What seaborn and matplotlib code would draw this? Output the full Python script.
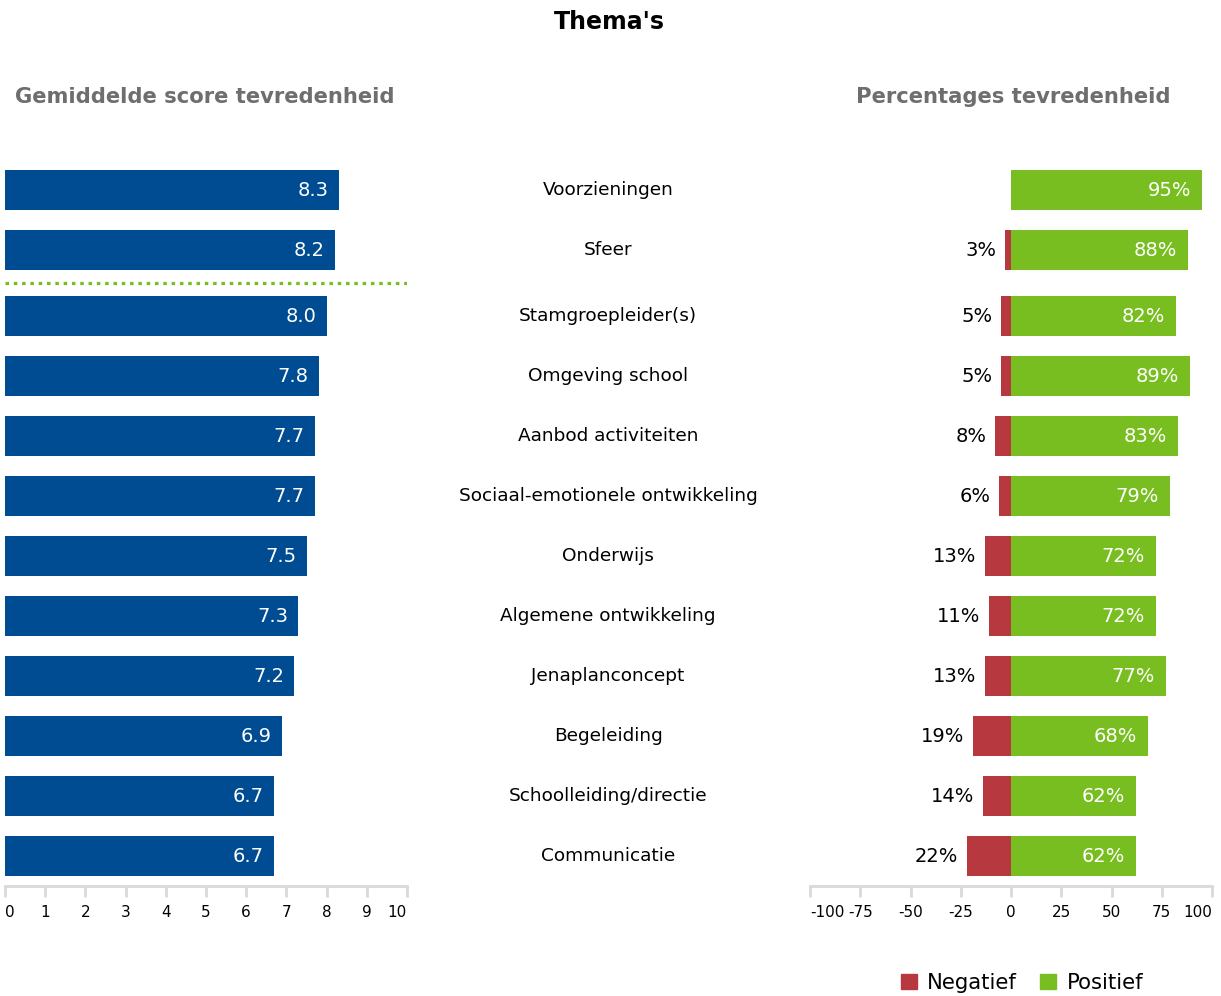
import numpy as np
import pandas as pd
import matplotlib
matplotlib.use("Agg")
import matplotlib.pyplot as plt
import matplotlib.transforms as mtransforms
import seaborn as sns

# data
themes = ["Voorzieningen", "Sfeer", "Stamgroepleider(s)", "Omgeving school",
          "Aanbod activiteiten", "Sociaal-emotionele ontwikkeling", "Onderwijs",
          "Algemene ontwikkeling", "Jenaplanconcept", "Begeleiding",
          "Schoolleiding/directie", "Communicatie"]
scores = [8.3, 8.2, 8.0, 7.8, 7.7, 7.7, 7.5, 7.3, 7.2, 6.9, 6.7, 6.7]
negatief = [0, 3, 5, 5, 8, 6, 13, 11, 13, 19, 14, 22]
positief = [95, 88, 82, 89, 83, 79, 72, 72, 77, 68, 62, 62]

score_ticks = list(range(0, 11))
pct_ticks = [-100, -75, -50, -25, 0, 25, 50, 75, 100]

BLUE = "#004c93"
GREEN = "#78be20"
RED = "#b83840"
GRAY_TXT = "#6e6e6e"
AXIS_GRAY = "#d9d9d9"

sns.set_style("white")
plt.rcParams["font.family"] = ["DejaVu Sans"]
plt.rcParams["text.color"] = "black"

n = len(themes)
gap = 0.1
ypos = np.arange(n) + np.where(np.arange(n) >= 2, gap, 0.0)

df = pd.DataFrame({"thema": themes, "y": ypos, "score": scores})
long = pd.concat([
    pd.DataFrame({"y": ypos, "waarde": -np.array(negatief), "soort": "Negatief"}),
    pd.DataFrame({"y": ypos, "waarde": np.array(positief), "soort": "Positief"}),
])

fig = plt.figure(figsize=(12.21, 9.96), dpi=100)
ax1 = fig.add_axes([5 / 1221, 1 - 886 / 996, 402 / 1221, 726 / 996])
ax2 = fig.add_axes([810 / 1221, 1 - 886 / 996, 402 / 1221, 726 / 996])

# left: average scores
sns.barplot(data=df, x="score", y="y", orient="h", native_scale=True,
            color=BLUE, width=0.67, linewidth=0, saturation=1, ax=ax1)
ax1.set_xlim(0, 10)
for yy, s in zip(ypos, scores):
    ax1.annotate(f"{s:.1f}", (s, yy), xytext=(-7.5, 0), textcoords="offset points",
                 ha="right", va="center", color="white", fontsize=14)
ax1.axhline((1 + 2 + gap) / 2, color=GREEN, lw=2.3, linestyle=(0, (1.1, 1.5)))
ax1.set_xticks(score_ticks)
ax1.set_xticklabels([str(t) for t in score_ticks])

# right: percentages
sns.barplot(data=long, x="waarde", y="y", hue="soort", orient="h", native_scale=True,
            dodge=False, palette={"Negatief": RED, "Positief": GREEN}, width=0.67,
            linewidth=0, saturation=1, legend=False, ax=ax2)
ax2.set_xlim(-100, 100)
ax2.set_xticks(pct_ticks)
ax2.set_xticklabels([str(t) for t in pct_ticks])
for yy, ng, ps in zip(ypos, negatief, positief):
    ax2.annotate(f"{ps}%", (ps, yy), xytext=(-8, 0), textcoords="offset points",
                 ha="right", va="center", color="white", fontsize=14)
    if ng > 0:
        ax2.annotate(f"{ng}%", (-ng, yy), xytext=(-6, 0), textcoords="offset points",
                     ha="right", va="center", color="black", fontsize=14)

for ax in (ax1, ax2):
    ax.set_ylim(ypos[-1] + 0.5, -0.5)
    ax.set_xlabel("")
    ax.set_ylabel("")
    ax.set_yticks([])
    for side in ("top", "right", "left"):
        ax.spines[side].set_visible(False)
    ax.spines["bottom"].set_color(AXIS_GRAY)
    ax.spines["bottom"].set_linewidth(2)
    ax.tick_params(axis="x", bottom=True, direction="out", length=8, width=2,
                   color=AXIS_GRAY, labelsize=11, pad=6, labelcolor="black")
    labels = ax.get_xticklabels()
    labels[0].set_ha("left")
    labels[-1].set_ha("right")

# theme labels in the middle
trans = mtransforms.blended_transform_factory(fig.transFigure, ax1.transData)
for yy, t in zip(ypos, themes):
    ax1.text(608 / 1221, yy, t, transform=trans, ha="center", va="center",
             fontsize=13.3, color="black", clip_on=False)

fig.text(609 / 1221, 1 - 22 / 996, "Thema's", ha="center", va="center",
         fontsize=17, fontweight="bold", color="black")
fig.text(205 / 1221, 1 - 97 / 996, "Gemiddelde score tevredenheid", ha="center",
         va="center", fontsize=15.2, fontweight="bold", color=GRAY_TXT)
fig.text(1013 / 1221, 1 - 97 / 996, "Percentages tevredenheid", ha="center",
         va="center", fontsize=15.2, fontweight="bold", color=GRAY_TXT)

handles = [plt.Rectangle((0, 0), 1, 1, color=RED), plt.Rectangle((0, 0), 1, 1, color=GREEN)]
leg = fig.legend(handles, ["Negatief", "Positief"], loc="center", ncol=2,
                 bbox_to_anchor=(1022 / 1221, 1 - 983 / 996), frameon=False, fontsize=15.2,
                 handlelength=0.75, handleheight=0.75, handletextpad=0.5, columnspacing=1.1)
for txt in leg.get_texts():
    txt.set_color("black")

fig.savefig("out.png", dpi=100)
